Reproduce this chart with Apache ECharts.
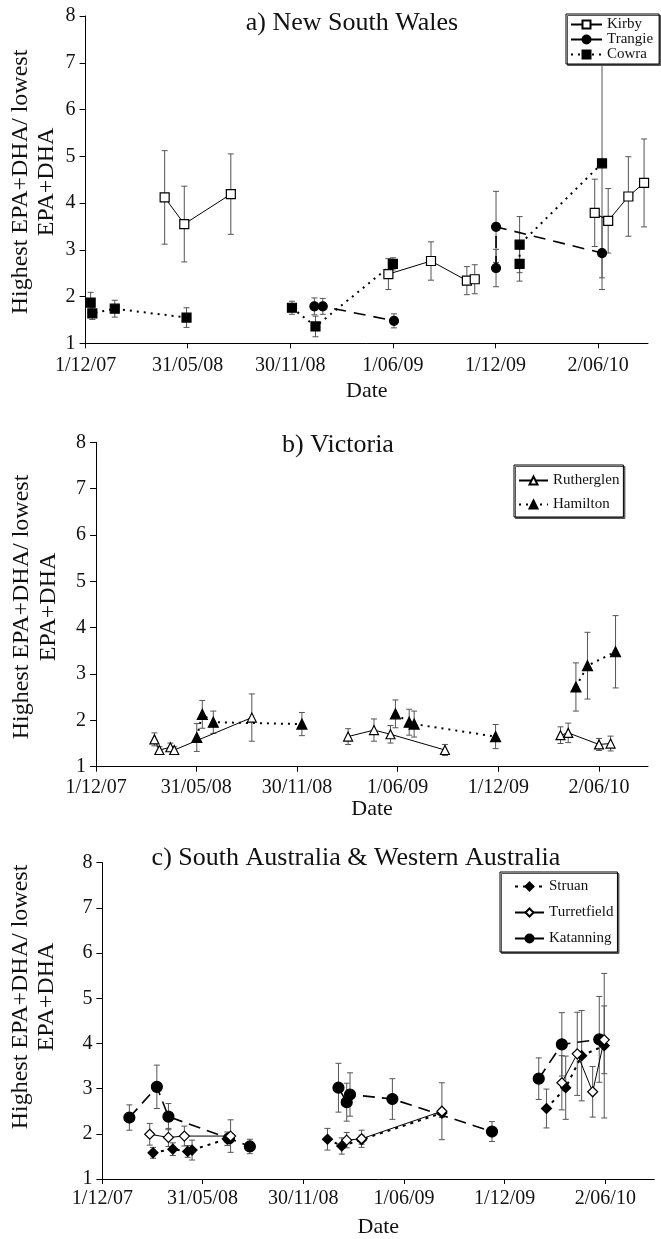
<!DOCTYPE html>
<html>
<head>
<meta charset="utf-8">
<script src="https://cdn.jsdelivr.net/npm/echarts@6/dist/echarts.min.js"></script>
<style>
  html, body { margin: 0; padding: 0; background: #fff; }
  #chart { width: 661px; height: 1239px; }
</style>
</head>
<body>
<div id="chart"></div>
<script>
// x axis: dates, shown with these tick labels
var tickDates = ['2007-12-01', '2008-05-31', '2008-11-30', '2009-06-01', '2009-12-01', '2010-06-02'];
var tickLabels = ['1/12/07', '31/05/08', '30/11/08', '1/06/09', '1/12/09', '2/06/10'];
var axisEnd = '2010-08-30';

// a) New South Wales  (null = break in the line)
var kirbyDates = ['2008-04-20', '2008-05-25', '2008-08-16', null, '2009-05-24', '2009-08-08', '2009-10-11', '2009-10-25', null, '2010-05-27', '2010-06-20', '2010-07-26', '2010-08-23'];
var kirbyValues = [4.12, 3.55, 4.19, null, 2.48, 2.76, 2.34, 2.37, null, 3.79, 3.62, 4.14, 4.43];
var kirbyErrors = [1.0, 0.81, 0.86, null, 0.33, 0.41, 0.30, 0.31, null, 0.72, 0.69, 0.85, 0.94];

var trangieDates = ['2009-01-12', '2009-01-27', '2009-06-03', null, '2009-12-02', '2009-12-02', '2010-06-09'];
var trangieValues = [1.79, 1.79, 1.48, null, 2.61, 3.49, 2.93];
var trangieErrors = [0.18, 0.17, 0.15, null, 0.40, 0.76, 0.78];

var cowraDates = ['2007-12-10', '2007-12-13', '2008-01-22', '2008-05-29', null, '2008-12-03', '2009-01-14', '2009-06-01', null, '2010-01-13', '2010-01-13', '2010-06-09'];
var cowraValues = [1.87, 1.64, 1.74, 1.55, null, 1.76, 1.36, 2.70, null, 2.70, 3.11, 4.85];
var cowraErrors = [0.22, 0.13, 0.18, 0.21, null, 0.14, 0.22, 0.13, null, 0.37, 0.60, 2.45];

// b) Victoria
var rutherglenDates = ['2008-03-16', '2008-03-25', '2008-04-14', '2008-04-21', '2008-09-09', null, '2009-03-03', '2009-04-19', '2009-05-19', '2009-08-26', null, '2010-03-24', '2010-04-07', '2010-06-02', '2010-06-23'];
var rutherglenValues = [1.59, 1.36, 1.42, 1.36, 2.06, null, 1.65, 1.79, 1.70, 1.36, null, 1.68, 1.73, 1.48, 1.50];
var rutherglenErrors = [0.14, 0.07, 0.09, 0.07, 0.51, null, 0.17, 0.24, 0.19, 0.12, null, 0.18, 0.21, 0.13, 0.16];

var hamiltonDates = ['2008-06-01', '2008-06-11', '2008-07-01', '2008-12-09', null, '2009-05-28', '2009-06-22', '2009-07-01', '2009-11-26', null, '2010-04-21', '2010-05-12', '2010-07-02'];
var hamiltonValues = [1.63, 2.13, 1.96, 1.92, null, 2.14, 1.96, 1.92, 1.65, null, 2.72, 3.18, 3.48];
var hamiltonErrors = [0.30, 0.30, 0.24, 0.25, null, 0.30, 0.28, 0.28, 0.26, null, 0.52, 0.72, 0.78];

// c) South Australia & Western Australia
var struanDates = ['2008-03-02', '2008-04-07', '2008-05-04', '2008-05-12', '2008-07-15', null, '2009-01-13', '2009-02-08', '2009-03-16', '2009-08-09', null, '2010-02-15', '2010-03-22', '2010-04-20', '2010-05-31'];
var struanValues = [1.58, 1.66, 1.61, 1.64, 1.89, null, 1.88, 1.73, 1.87, 2.46, null, 2.56, 3.02, 3.73, 3.95];
var struanErrors = [0.12, 0.14, 0.13, 0.22, 0.15, null, 0.24, 0.18, 0.10, 0.10, null, 0.43, 0.70, 1.0, 1.6];

var turretfieldDates = ['2008-02-25', '2008-03-30', '2008-04-28', '2008-07-21', null, '2009-02-17', '2009-03-16', '2009-08-09', null, '2010-03-15', '2010-04-12', '2010-05-10', '2010-05-31'];
var turretfieldValues = [1.99, 1.92, 1.95, 1.95, null, 1.86, 1.89, 2.50, null, 3.13, 3.77, 2.93, 4.08];
var turretfieldErrors = [0.24, 0.20, 0.22, 0.36, null, 0.17, 0.19, 0.63, null, 0.60, 0.92, 0.56, 0.75];

var katanningDates = ['2008-01-19', '2008-03-09', '2008-03-30', '2008-07-18', '2008-08-25', null, '2009-02-02', '2009-02-17', '2009-02-23', '2009-05-11', '2009-11-08', null, '2010-02-01', '2010-03-15', '2010-05-22'];
var katanningValues = [2.36, 3.04, 2.38, 1.90, 1.72, null, 3.02, 2.70, 2.87, 2.77, 2.05, null, 3.22, 3.98, 4.09];
var katanningErrors = [0.28, 0.48, 0.29, 0.10, 0.16, null, 0.54, 0.42, 0.48, 0.45, 0.22, null, 0.46, 0.70, 0.95];

var FONT = "'Liberation Serif', 'DejaVu Serif', serif";
var yName = 'Highest EPA+DHA/ lowest\nEPA+DHA';

// days since the first tick
function toDay(d) {
  var p = d.split('-'), b = tickDates[0].split('-');
  return (Date.UTC(+p[0], p[1] - 1, +p[2]) - Date.UTC(+b[0], b[1] - 1, +b[2])) / 86400000;
}
var tickDays = tickDates.map(toDay);

function lineData(dates, values) {
  return dates.map(function (d, i) {
    return d === null ? ['-', '-'] : [toDay(d), values[i]];
  });
}
function errData(dates, values, errs) {
  var out = [];
  dates.forEach(function (d, i) {
    if (d !== null) out.push([toDay(d), values[i] - errs[i], values[i] + errs[i]]);
  });
  return out;
}

function renderErr(params, api) {
  var a = api.coord([api.value(0), api.value(1)]);
  var b = api.coord([api.value(0), api.value(2)]);
  var w = 3;
  var st = { stroke: '#555', lineWidth: 1 };
  return {
    type: 'group',
    children: [
      { type: 'line', shape: { x1: a[0], y1: a[1], x2: b[0], y2: b[1] }, style: st },
      { type: 'line', shape: { x1: a[0] - w, y1: a[1], x2: a[0] + w, y2: a[1] }, style: st },
      { type: 'line', shape: { x1: b[0] - w, y1: b[1], x2: b[0] + w, y2: b[1] }, style: st }
    ]
  };
}

function errSeries(idx, dates, values, errs) {
  return {
    type: 'custom', xAxisIndex: idx, yAxisIndex: idx, z: 2,
    renderItem: renderErr, encode: { x: 0, y: [1, 2] },
    data: errData(dates, values, errs), silent: true
  };
}

function lineSeries(name, idx, dates, values, symbol, size, open, lineType, lineWidth) {
  return {
    name: name, type: 'line', xAxisIndex: idx, yAxisIndex: idx, z: 3,
    data: lineData(dates, values),
    symbol: symbol, symbolSize: size, showSymbol: true, connectNulls: false,
    lineStyle: { color: '#000', width: lineWidth, type: lineType },
    itemStyle: { color: open ? '#fff' : '#000', borderColor: '#000', borderWidth: 1.2, opacity: 1 }
  };
}

function xAxis(idx, gap, margin) {
  return {
    type: 'value', gridIndex: idx, min: 0, max: toDay(axisEnd),
    axisLine: { lineStyle: { color: '#000', width: 1 } },
    axisTick: { customValues: tickDays, length: 5, lineStyle: { color: '#000' } },
    axisLabel: {
      customValues: tickDays, margin: margin, color: '#111', fontFamily: FONT, fontSize: 20,
      formatter: function (v) {
        var i = tickDays.indexOf(v);
        return i >= 0 ? tickLabels[i] : '';
      }
    },
    splitLine: { show: false },
    name: 'Date', nameLocation: 'middle', nameGap: gap,
    nameTextStyle: { color: '#111', fontFamily: FONT, fontSize: 22 }
  };
}
function yAxis(idx) {
  return {
    type: 'value', gridIndex: idx, min: 1, max: 8, interval: 1,
    axisLine: { show: true, lineStyle: { color: '#000', width: 1 } },
    axisTick: { show: true, length: 6, lineStyle: { color: '#000' } },
    axisLabel: { margin: 10, color: '#111', fontFamily: FONT, fontSize: 20 },
    splitLine: { show: false }
  };
}

function legend(names, left, top, padding, gap, width) {
  return {
    data: names, orient: 'vertical', left: left, top: top,
    padding: padding, itemGap: gap, itemWidth: width, itemHeight: 10,
    backgroundColor: '#fff', borderColor: '#000', borderWidth: 1,
    shadowColor: '#555', shadowOffsetX: 1.5, shadowOffsetY: 1.5, shadowBlur: 0,
    textStyle: { color: '#111', fontFamily: FONT, fontSize: 15, lineHeight: 15 },
    selectedMode: false
  };
}

function textEl(txt, x, y, size, rot, lh) {
  return {
    type: 'text', x: x, y: y, rotation: rot || 0,
    style: {
      text: txt, fill: '#111', font: size + 'px ' + FONT,
      align: 'center', verticalAlign: 'middle', lineHeight: lh || size
    }
  };
}

var chart = echarts.init(document.getElementById('chart'));
chart.setOption({
  animation: false,
  backgroundColor: '#fff',
  grid: [
    { left: 85.6, top: 16, width: 562.4, height: 327.3 },
    { left: 96.1, top: 442.3, width: 551.9, height: 324.4 },
    { left: 102.4, top: 862.7, width: 551.9, height: 318.3 }
  ],
  xAxis: [xAxis(0, 37, 12), xAxis(1, 30, 11), xAxis(2, 37, 10)],
  yAxis: [yAxis(0), yAxis(1), yAxis(2)],
  legend: [
    legend(['Kirby', 'Trangie', 'Cowra'], 566, 14, [3, 6, 2, 4], 0, 31),
    legend(['Rutherglen', 'Hamilton'], 514, 465, [8, 4, 5, 4], 9, 29),
    legend(['Struan', 'Turretfield', 'Katanning'], 500, 872, [7, 4, 6, 14], 11, 29)
  ],
  graphic: [
    textEl('a) New South Wales', 352, 23, 26),
    textEl('b) Victoria', 338, 445, 26),
    textEl('c) South Australia & Western Australia', 356, 858, 26),
    textEl(yName, 34, 182, 24, Math.PI / 2, 26),
    textEl(yName, 35, 607, 24, Math.PI / 2, 27),
    textEl(yName, 34, 997, 24, Math.PI / 2, 26)
  ],
  series: [
    errSeries(0, kirbyDates, kirbyValues, kirbyErrors),
    errSeries(0, trangieDates, trangieValues, trangieErrors),
    errSeries(0, cowraDates, cowraValues, cowraErrors),
    lineSeries('Kirby', 0, kirbyDates, kirbyValues, 'rect', 9, true, 'solid', 1),
    lineSeries('Trangie', 0, trangieDates, trangieValues, 'circle', 9, false, [12, 8], 1.6),
    lineSeries('Cowra', 0, cowraDates, cowraValues, 'rect', 9, false, [2, 5], 2),

    errSeries(1, rutherglenDates, rutherglenValues, rutherglenErrors),
    errSeries(1, hamiltonDates, hamiltonValues, hamiltonErrors),
    lineSeries('Rutherglen', 1, rutherglenDates, rutherglenValues, 'triangle', 9, true, 'solid', 1),
    lineSeries('Hamilton', 1, hamiltonDates, hamiltonValues, 'triangle', 10, false, [2, 5], 2),

    errSeries(2, struanDates, struanValues, struanErrors),
    errSeries(2, turretfieldDates, turretfieldValues, turretfieldErrors),
    errSeries(2, katanningDates, katanningValues, katanningErrors),
    lineSeries('Katanning', 2, katanningDates, katanningValues, 'circle', 11, false, [12, 7], 1.6),
    lineSeries('Struan', 2, struanDates, struanValues, 'diamond', 10, false, [3, 5], 2),
    lineSeries('Turretfield', 2, turretfieldDates, turretfieldValues, 'diamond', 10, true, 'solid', 1)
  ]
});
</script>
</body>
</html>
